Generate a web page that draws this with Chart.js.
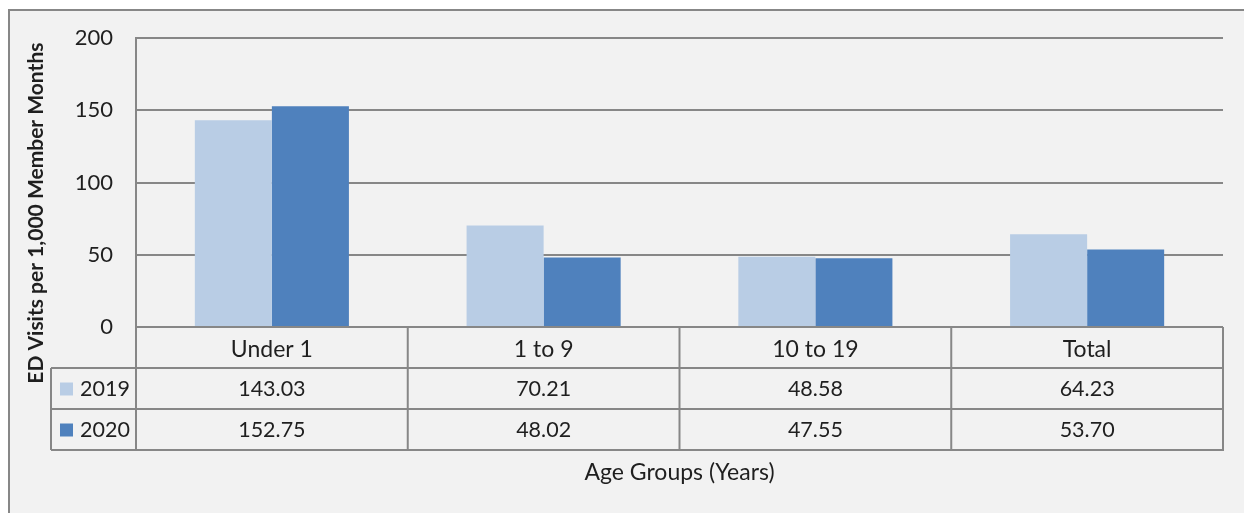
<!DOCTYPE html>
<html>
<head>
<meta charset="utf-8">
<script src="https://cdn.jsdelivr.net/npm/chart.js@4/dist/chart.umd.min.js"></script>
<style>
  html, body { margin: 0; padding: 0; background: #ffffff; }
  #wrap { width: 1244px; height: 513px; }
</style>
</head>
<body>
<div id="wrap"><canvas id="chart" width="1244" height="513"></canvas></div>
<script>
const categories = ['Under 1', '1 to 9', '10 to 19', 'Total']
const seriesNames = ['2019', '2020']
const values2019 = [143.03, 70.21, 48.58, 64.23]
const values2020 = [152.75, 48.02, 47.55, 53.70]
const yTicks = [0, 50, 100, 150, 200]

const FONT = 'Lato, "Open Sans", sans-serif'
const LINE = '#878787'
const TEXT = '#1f1f1f'

// frame + background
const framePlugin = {
  id: 'frame',
  beforeDraw(chart) {
    const ctx = chart.ctx
    ctx.save()
    ctx.fillStyle = '#ffffff'
    ctx.fillRect(0, 0, chart.width, chart.height)
    ctx.fillStyle = '#f2f2f2'
    ctx.fillRect(8, 9, chart.width, chart.height)
    ctx.strokeStyle = LINE
    ctx.lineWidth = 2
    ctx.beginPath()
    ctx.moveTo(9, chart.height)
    ctx.lineTo(9, 10)
    ctx.lineTo(chart.width, 10)
    ctx.stroke()
    ctx.restore()
  }
}

// data table under the x axis
const tablePlugin = {
  id: 'dataTable',
  afterDraw(chart) {
    const ctx = chart.ctx
    const area = chart.chartArea
    const n = chart.data.labels.length
    const colW = (area.right - area.left) / n
    const rowH = 41
    const top = area.bottom
    const r1 = top + rowH, r2 = r1 + rowH, r3 = r2 + rowH
    const legendLeft = area.left - 85
    ctx.save()
    ctx.strokeStyle = LINE
    ctx.lineWidth = 2
    ctx.beginPath()
    ;[r1, r2, r3].forEach(y => { ctx.moveTo(legendLeft, y); ctx.lineTo(area.right + 1, y) })
    for (let i = 0; i <= n; i++) {
      const x = area.left + i * colW
      ctx.moveTo(x, top); ctx.lineTo(x, r3)
    }
    ctx.moveTo(legendLeft, r1); ctx.lineTo(legendLeft, r3)
    ctx.stroke()

    ctx.font = '21.5px ' + FONT
    ctx.textBaseline = 'middle'
    chart.data.datasets.forEach((ds, d) => {
      const yc = r1 + rowH * d + rowH / 2
      ctx.fillStyle = ds.backgroundColor
      ctx.fillRect(legendLeft + 9, yc - 6, 13, 13)
      ctx.fillStyle = TEXT
      ctx.textAlign = 'left'
      ctx.fillText(ds.label, legendLeft + 29, yc + 1)
      ctx.textAlign = 'center'
      ds.data.forEach((v, i) => {
        ctx.fillText(v.toFixed(2), area.left + colW * (i + 0.5), yc + 1)
      })
    })
    ctx.restore()
  }
}

new Chart(document.getElementById('chart'), {
  type: 'bar',
  data: {
    labels: categories,
    datasets: [{
      label: seriesNames[0],
      data: values2019,
      backgroundColor: '#b9cde5'
    }, {
      label: seriesNames[1],
      data: values2020,
      backgroundColor: '#4f81bd'
    }]
  },
  options: {
    responsive: false,
    animation: false,
    devicePixelRatio: 1,
    layout: { padding: { top: 38, right: 21, left: 0, bottom: 0 } },
    plugins: {
      legend: { display: false },
      tooltip: { enabled: false }
    },
    datasets: {
      bar: { categoryPercentage: 0.567, barPercentage: 1 }
    },
    scales: {
      x: {
        grid: { display: false },
        border: { display: false },
        ticks: {
          color: TEXT,
          font: { family: FONT, size: 23 },
          padding: 1
        },
        title: {
          display: true,
          text: 'Age Groups (Years)',
          color: TEXT,
          font: { family: FONT, size: 23 },
          padding: { top: 0, bottom: 27 }
        },
        afterFit(scale) { scale.height = 186 }
      },
      y: {
        min: 0,
        max: 200,
        afterBuildTicks(scale) { scale.ticks = yTicks.map(v => ({ value: v })) },
        grid: { color: LINE, lineWidth: 2, drawTicks: false },
        border: { display: true, color: LINE, width: 2 },
        ticks: {
          color: TEXT,
          font: { family: FONT, size: 22 },
          padding: 23
        },
        title: {
          display: true,
          // trailing spaces push the centred title down to sit over plot + table
          text: 'ED Visits per 1,000 Member Months            ',
          color: TEXT,
          font: { family: FONT, size: 21, weight: 'bold' },
          padding: { top: 24, bottom: 0 }
        },
        afterFit(scale) { scale.width = 136 }
      }
    }
  },
  plugins: [framePlugin, tablePlugin]
})
</script>
</body>
</html>
